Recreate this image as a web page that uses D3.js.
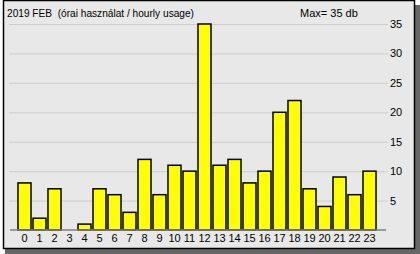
<!DOCTYPE html>
<html>
<head>
<meta charset="utf-8">
<script src="https://cdn.jsdelivr.net/npm/d3@7"></script>
<style>
    body { margin: 0; background: #ffffff; }
    svg text { font-family: "Liberation Sans", Arial, sans-serif; font-size: 11px; fill: #000; white-space: pre; }
</style>
</head>
<body>
<svg id="chart" width="420" height="254"></svg>
<script>
    let hours = d3.range(0, 24).map(String);
    let usage = [8, 2, 7, 0, 1, 7, 6, 3, 12, 6, 11, 10, 35, 11, 12, 8, 10, 20, 22, 7, 4, 9, 6, 10];
    let yTicks = [5, 10, 15, 20, 25, 30, 35];
    let title = "2019 FEB  (órai használat / hourly usage)";
    let maxLabel = "Max= " + d3.max(usage) + " db";

    let svg = d3.select("#chart");

    // shadow + panel
    svg.append("rect")
        .attr("x", 5).attr("y", 5).attr("width", 415).attr("height", 249)
        .attr("fill", "#676767");
    svg.append("rect")
        .attr("x", 3.5).attr("y", 0.5).attr("width", 411).attr("height", 248)
        .attr("fill", "#e8e8e8").attr("stroke", "#000").attr("stroke-width", 1.5);

    let x = d3.scaleBand().domain(hours).range([17, 377]);
    let y = d3.scaleLinear().domain([0, 35]).range([230, 24]);

    let yAxis = svg.append("g")
        .attr("transform", "translate(388,0)")
        .call(d3.axisRight(y).tickValues(yTicks).tickSizeInner(-379).tickSizeOuter(0).tickPadding(2));
    yAxis.select(".domain").remove();
    yAxis.selectAll("line").attr("stroke", "#cdcdcd");
    yAxis.selectAll("text").attr("fill", "#000").style("font-size", "11px")
        .style("font-family", "Liberation Sans, Arial, sans-serif");

    svg.append("g").selectAll("rect")
        .data(usage)
        .enter()
        .append("rect")
        .attr("x", (d, i) => x(hours[i]) + 1)
        .attr("y", d => y(d))
        .attr("width", x.bandwidth() - 2)
        .attr("height", d => y(0) - y(d))
        .attr("fill", "#ffff00")
        .attr("stroke", "#000")
        .attr("stroke-width", 1.5);

    svg.append("line")
        .attr("x1", 10).attr("x2", 386)
        .attr("y1", y(0)).attr("y2", y(0))
        .attr("stroke", "#808080").attr("stroke-width", 1.5);

    let xAxis = svg.append("g")
        .attr("transform", "translate(0," + y(0) + ")")
        .call(d3.axisBottom(x).tickSize(0).tickPadding(4));
    xAxis.select(".domain").remove();
    xAxis.selectAll("text").attr("fill", "#000").style("font-size", "11px")
        .style("font-family", "Liberation Sans, Arial, sans-serif");

    svg.append("text").attr("x", 7).attr("y", 17)
        .attr("textLength", 187).attr("lengthAdjust", "spacingAndGlyphs")
        .text(title);
    svg.append("text").attr("x", 300).attr("y", 17).text(maxLabel);
</script>
</body>
</html>
